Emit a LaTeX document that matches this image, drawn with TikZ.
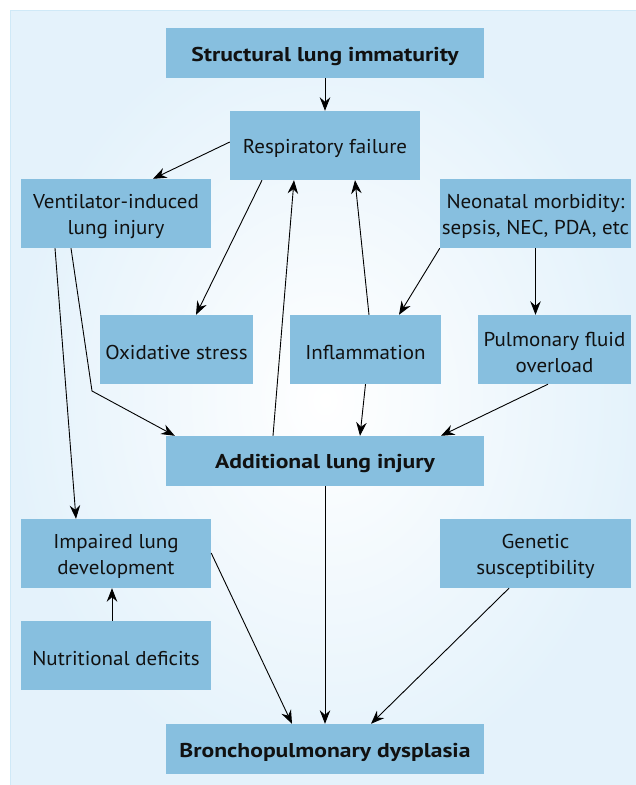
\documentclass[tikz,border=0pt]{standalone}
\usepackage{fontspec}
\setmainfont{PT Sans}[FakeStretch=1.05,BoldFeatures={FakeStretch=1.18}]
\usetikzlibrary{arrows.meta}
\definecolor{boxblue}{HTML}{87BFDF}
\definecolor{panelout}{HTML}{E4F2FB}
\definecolor{panelline}{HTML}{CFE9F7}
\definecolor{txt}{HTML}{111111}
\begin{document}
\begin{tikzpicture}[x=1pt,y=-1pt,
  box/.style={fill=boxblue,draw=none,inner sep=0pt},
  lbl/.style={align=center,text=txt,inner sep=0pt,yshift=-3pt,
    font=\fontsize{20}{25.7}\selectfont},
  blbl/.style={lbl,font=\fontsize{20}{25.7}\selectfont\bfseries},
  bigbox/.style={box,minimum width=318pt,minimum height=50pt,label={[blbl]center:#1}},
  widebox/.style={box,minimum width=190pt,minimum height=69pt,label={[lbl]center:#1}},
  midbox/.style={box,minimum width=152pt,minimum height=69pt,label={[lbl]center:#1}},
  arr/.style={-{Stealth[length=13.5pt,width=10.5pt,inset=4.5pt]},line width=0.9pt,draw=black}]
\useasboundingbox (0,0) rectangle (635,785);
\shade[inner color=white,outer color=panelout] (10,10) rectangle (640,790);
\draw[panelline,line width=1pt] (10,790) -- (10,10) -- (640,10);

\node[bigbox={Structural lung immaturity}] (struct) at (325,53) {};
\node[widebox={Respiratory failure}] (resp) at (325,145.5) {};
\node[widebox={Ventilator-induced\\lung injury}] (vent) at (116,213.5) {};
\node[widebox={Neonatal morbidity:\\sepsis, NEC, PDA, etc},minimum width=191pt] (neo) at (535.5,213.5) {};
\node[midbox={Oxidative stress},minimum width=153pt] (oxi) at (176.5,349.5) {};
\node[midbox={Inflammation},minimum width=151pt] (infl) at (365.5,349.5) {};
\node[midbox={Pulmonary fluid\\overload},minimum width=153pt] (pulm) at (554.5,349.5) {};
\node[bigbox={Additional lung injury}] (add) at (325,461) {};
\node[widebox={Impaired lung\\development}] (imp) at (116,553.5) {};
\node[widebox={Genetic\\susceptibility},minimum width=191pt] (gen) at (535.5,553.5) {};
\node[widebox={Nutritional deficits}] (nut) at (116,655.5) {};
\node[bigbox={Bronchopulmonary dysplasia}] (bpd) at (325,749) {};
\coordinate (bend) at (92,391);

\draw[arr] (struct.south) -- (resp.north);
\draw[arr] ([yshift=3.5pt]resp.west) -- ([xshift=37pt]vent.north);
\draw[arr] ([xshift=-63pt]resp.south) -- ([xshift=19.5pt]oxi.north);
\draw[arr] ([xshift=-52pt]add.north) -- ([xshift=-31pt]resp.south);
\draw[arr] ([xshift=3.5pt]infl.north) -- ([xshift=30pt]resp.south);
\draw[arr] (neo.south west) -- ([xshift=33.5pt]infl.north);
\draw[arr] (neo.south) -- (neo.south |- pulm.north);
\draw[arr] (infl.south) -- ([xshift=35pt]add.north);
\draw[arr] ([xshift=-6.5pt]pulm.south) -- ([xshift=116pt]add.north);
\draw[arr] ([xshift=-45pt]vent.south) -- (bend) -- ([xshift=9pt]add.north west);
\draw[arr] ([xshift=-61pt]vent.south) -- ([xshift=-40pt]imp.north);
\draw[arr] ([xshift=-4pt]nut.north) -- ([xshift=-4pt]imp.south);
\draw[arr] ([yshift=0.5pt]imp.east) -- ([xshift=-33pt]bpd.north);
\draw[arr] (add.south) -- (bpd.north);
\draw[arr] ([xshift=-26.5pt]gen.south) -- ([xshift=46pt]bpd.north);
\end{tikzpicture}
\end{document}
